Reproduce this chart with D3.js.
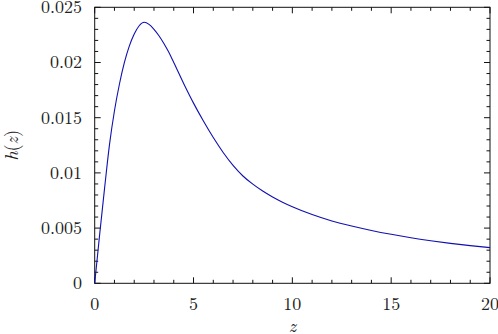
<!DOCTYPE html>
<html><head><meta charset="utf-8">
<script src="https://cdn.jsdelivr.net/npm/d3@7"></script>
<style>
html,body{margin:0;padding:0;background:#fff;}
svg{display:block;}
</style></head>
<body>
<svg id="chart" width="498" height="334"></svg>
<script>
const zValues = [0,0.25,0.5,0.75,1,1.25,1.5,1.75,2,2.25,2.5,2.75,3,3.25,3.5,3.75,4,4.5,5,5.5,6,6.5,7,7.5,8,8.5,9,9.5,10,11,12,13,14,15,16,17,18,19,20];
const hValues = [0,0.00441,0.00862,0.01258,0.01563,0.01803,0.01998,0.02148,0.02258,0.02333,0.02364,0.02345,0.0230,0.02242,0.02172,0.02092,0.0200,0.0181,0.01632,0.0147,0.0132,0.01185,0.01068,0.00972,0.00898,0.00836,0.00782,0.00735,0.00694,0.00623,0.00565,0.00519,0.00479,0.00444,0.00413,0.00386,0.00362,0.00341,0.00323];
const xTicks = [0,5,10,15,20];
const xTickLabels = ["0","5","10","15","20"];
const yTicks = [0,0.005,0.01,0.015,0.02,0.025];
const yTickLabels = ["0","0.005","0.01","0.015","0.02","0.025"];
const xMinor = d3.range(0,20.001,1);
const yMinor = d3.range(0,0.02501,0.001);

const L=94.7, R=490, T=7.3, B=283.3;
const x = d3.scaleLinear().domain([0,20]).range([L,R]);
const y = d3.scaleLinear().domain([0,0.025]).range([B,T]);
const svg = d3.select("#chart");
const FF = '"Latin Modern Roman", "Liberation Serif", serif';
const FS = "18px";
const txt = sel => sel.style("font-family",FF).style("font-size",FS).style("fill","#222");

// frame
svg.append("rect").attr("x",L).attr("y",T).attr("width",R-L).attr("height",B-T)
  .attr("fill","none").attr("stroke","#111").attr("stroke-width",1);

const tickG = svg.append("g").attr("stroke","#111").attr("stroke-width",1);
const isMajX = v => xTicks.some(t=>Math.abs(t-v)<1e-9);
const isMajY = v => yTicks.some(t=>Math.abs(t-v)<1e-9);
xMinor.forEach(v=>{
  const len = isMajX(v)?6:3.5;
  tickG.append("line").attr("x1",x(v)).attr("x2",x(v)).attr("y1",B).attr("y2",B-len);
  tickG.append("line").attr("x1",x(v)).attr("x2",x(v)).attr("y1",T).attr("y2",T+len);
});
yMinor.forEach(v=>{
  const len = isMajY(v)?6:3.5;
  tickG.append("line").attr("y1",y(v)).attr("y2",y(v)).attr("x1",L).attr("x2",L+len);
  tickG.append("line").attr("y1",y(v)).attr("y2",y(v)).attr("x1",R).attr("x2",R-len);
});

// tick labels
xTicks.forEach((v,i)=>{
  txt(svg.append("text").attr("x",x(v)).attr("y",309.5).attr("text-anchor","middle")).text(xTickLabels[i]);
});
yTicks.forEach((v,i)=>{
  txt(svg.append("text").attr("x",82).attr("y",y(v)).attr("dy","0.33em").attr("text-anchor","end")).text(yTickLabels[i]);
});

// axis labels
txt(svg.append("text").attr("x",(L+R)/2).attr("y",332).attr("text-anchor","middle"))
  .style("font-style","italic").text("z");
const yl = txt(svg.append("text").attr("transform",`translate(18,${(T+B)/2}) rotate(-90)`)
  .attr("text-anchor","middle"));
yl.append("tspan").style("font-style","italic").text("h");
yl.append("tspan").text("(");
yl.append("tspan").style("font-style","italic").text("z");
yl.append("tspan").text(")");

// curve
const data = zValues.map((z,i)=>[z,hValues[i]]);
svg.append("path").datum(data)
  .attr("d", d3.line().x(d=>x(d[0])).y(d=>y(d[1])).curve(d3.curveMonotoneX))
  .attr("fill","none").attr("stroke","#1010b0").attr("stroke-width",1.1);
</script>
</body></html>
